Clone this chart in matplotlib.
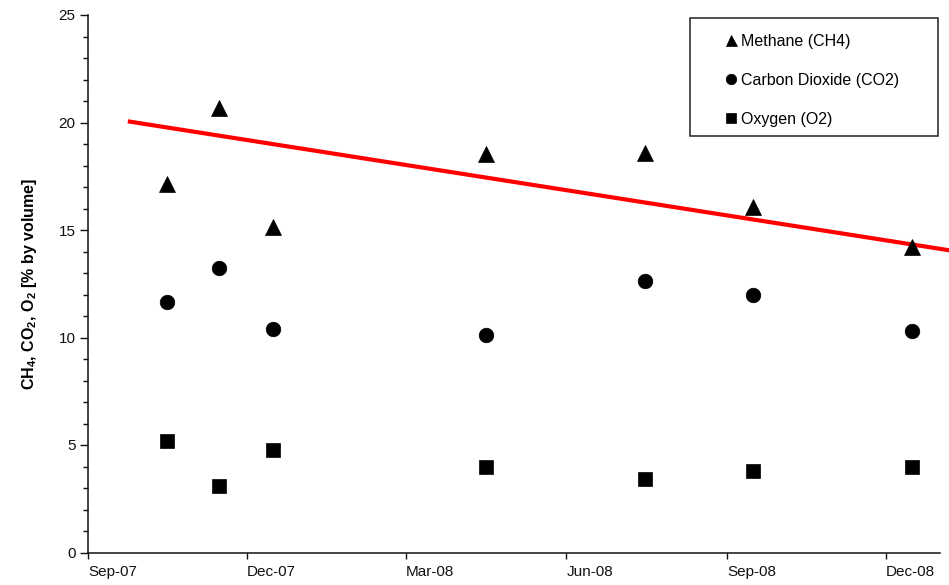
import numpy as np
import pandas as pd
import matplotlib
matplotlib.use("Agg")
import matplotlib.pyplot as plt
import matplotlib.dates as mdates
from matplotlib.patches import Rectangle
from matplotlib.ticker import MultipleLocator

plt.rcParams["font.family"] = ["Liberation Sans", "DejaVu Sans"]
plt.rcParams["mathtext.fontset"] = "custom"
plt.rcParams["mathtext.rm"] = "Liberation Sans"
plt.rcParams["mathtext.bf"] = "Liberation Sans:bold"

# fechas de muestreo y concentraciones (% vol)
fechas = pd.to_datetime(["2007-10-16", "2007-11-15", "2007-12-16", "2008-04-16",
                         "2008-07-16", "2008-09-16", "2008-12-16"])
metano  = [17.13, 20.66, 15.12, 18.53, 18.58, 16.08, 14.22]
co2     = [11.67, 13.22, 10.38, 10.12, 12.61, 11.99, 10.32]
oxigeno = [5.19, 3.09, 4.78, 3.99, 3.42, 3.79, 3.99]

# linea de tendencia (roja)
tend_fechas = pd.to_datetime(["2007-09-25", "2009-01-06"])
tend_valores = [20.04, 14.06]

x_lim = pd.to_datetime(["2007-09-01", "2009-01-01"])

fig = plt.figure(figsize=(9.49, 5.85), dpi=100)
ax = fig.add_axes([88 / 949, 1 - 552.5 / 585, (940 - 88) / 949, (552.5 - 15) / 585])

ax.plot(tend_fechas, tend_valores, color="#ff0000", lw=3, clip_on=False, zorder=2)

ax.plot(fechas, metano, ls="none", marker="^", ms=11, color="black", mew=0.5,
        label="Methane (CH4)", zorder=3)
ax.plot(fechas, co2, ls="none", marker="o", ms=10.5, color="black", mew=0.5,
        label="Carbon Dioxide (CO2)", zorder=3)
ax.plot(fechas, oxigeno, ls="none", marker="s", ms=9.5, color="black", mew=0.5,
        label="Oxygen (O2)", zorder=3)

ax.set_xlim(x_lim[0], x_lim[1])
ax.set_ylim(0, 25)

ax.xaxis.set_major_locator(mdates.MonthLocator(bymonth=[3, 6, 9, 12]))
ax.xaxis.set_major_formatter(mdates.DateFormatter("%b-%y"))
ax.yaxis.set_major_locator(MultipleLocator(5))
ax.yaxis.set_minor_locator(MultipleLocator(1))

for s in ["top", "right"]:
    ax.spines[s].set_visible(False)
for s in ["left", "bottom"]:
    ax.spines[s].set_linewidth(1.1)
    ax.spines[s].set_color("#111111")

ax.tick_params(axis="y", which="major", length=6, width=1, labelsize=11, pad=3, colors="#111111")
ax.tick_params(axis="y", which="minor", length=3.5, width=1, colors="#111111")
ax.tick_params(axis="x", which="major", length=4, width=1, labelsize=11, pad=5, colors="#111111")
for lbl in ax.get_xticklabels():
    lbl.set_horizontalalignment("left")

ax.set_ylabel(r"CH$_\mathbf{4}$, CO$_\mathbf{2}$, O$_\mathbf{2}$ [% by volume]",
              fontsize=11.5, fontweight="bold", labelpad=14)

# leyenda con marco dibujado a mano
leg = ax.legend(loc="upper left", bbox_to_anchor=(717 / 949, 1 - 26 / 585),
                bbox_transform=fig.transFigure, frameon=False, fontsize=11.5,
                handlelength=0.8, handletextpad=0.22, borderpad=0, labelspacing=1.5,
                markerscale=0.72, numpoints=1)
fig.patches.append(Rectangle((690 / 949, 1 - 136 / 585), (938 - 690) / 949, (136 - 18) / 585,
                             transform=fig.transFigure, fill=False, lw=1.1,
                             edgecolor="#222222", zorder=5))

fig.savefig("out.png", dpi=100)
plt.close(fig)
